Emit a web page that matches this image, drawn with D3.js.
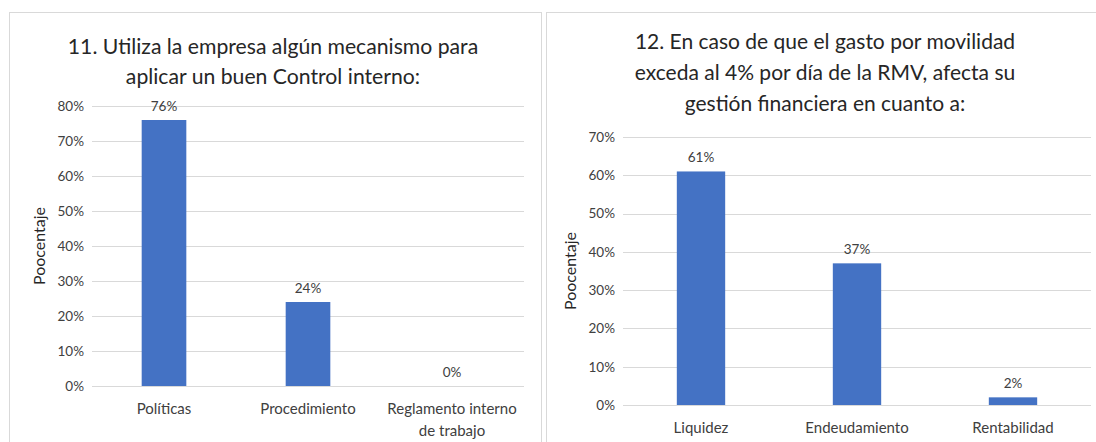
<!DOCTYPE html>
<html>
<head>
<meta charset="utf-8">
<script src="https://cdn.jsdelivr.net/npm/d3@7"></script>
<style>
  body { margin: 0; background: #fff; }
  text { font-family: Lato, "Open Sans", sans-serif; }
</style>
</head>
<body>
<script>
// chart 11
var cats11 = ["Políticas", "Procedimiento", "Reglamento interno de trabajo"];
var vals11 = [0.76, 0.24, 0.00];
var ticks11 = [0, 0.1, 0.2, 0.3, 0.4, 0.5, 0.6, 0.7, 0.8];
var title11 = ["11. Utiliza la empresa algún mecanismo para", "aplicar un buen Control interno:"];

// chart 12
var cats12 = ["Liquidez", "Endeudamiento", "Rentabilidad"];
var vals12 = [0.61, 0.37, 0.02];
var ticks12 = [0, 0.1, 0.2, 0.3, 0.4, 0.5, 0.6, 0.7];
var title12 = ["12. En caso de que el gasto por movilidad", "exceda al 4% por día de la RMV, afecta su", "gestión financiera en cuanto a:"];

var yLabel = "Poocentaje";

var width = 1096, height = 442;
var svg = d3.select("body").append("svg")
  .attr("width", width)
  .attr("height", height);

var fmt = d3.format(".0%");

// panel borders
svg.append("rect").attr("x", 9.5).attr("y", 12.5).attr("width", 532).attr("height", 440)
  .attr("fill", "none").attr("stroke", "#d9d9d9");
svg.append("rect").attr("x", 546.5).attr("y", 12.5).attr("width", 560).attr("height", 440)
  .attr("fill", "none").attr("stroke", "#d9d9d9");

function drawPanel(o) {
  var g = svg.append("g");

  // title lines
  g.selectAll("text.title").data(o.title).enter().append("text")
    .attr("x", o.titleX)
    .attr("y", function(d, i) { return o.titleY + i * o.titleStep; })
    .attr("text-anchor", "middle")
    .attr("font-size", o.titleSize)
    .attr("fill", "#262626")
    .text(function(d) { return d; });

  var x = d3.scaleBand().domain(o.cats).range([o.left, o.right]).paddingInner(0.69).paddingOuter(0.345);
  var y = d3.scaleLinear().domain([0, d3.max(o.ticks)]).range([o.bottom, o.top]);

  // gridlines
  g.selectAll("line.grid").data(o.ticks).enter().append("line")
    .attr("x1", o.left).attr("x2", o.right)
    .attr("y1", function(d) { return Math.round(y(d)) + 0.5; })
    .attr("y2", function(d) { return Math.round(y(d)) + 0.5; })
    .attr("stroke", "#d9d9d9");

  // y tick labels
  var ax = g.append("g")
    .attr("transform", "translate(" + o.left + ",0)")
    .call(d3.axisLeft(y).tickValues(o.ticks).tickFormat(fmt).tickSize(0).tickPadding(8));
  ax.select(".domain").remove();
  ax.selectAll("text").attr("font-size", 13.5).attr("fill", "#404040")
    .attr("font-family", "Lato, 'Open Sans', sans-serif");

  // bars
  g.selectAll("rect.bar").data(o.vals).enter().append("rect")
    .attr("x", function(d, i) { return x(o.cats[i]); })
    .attr("width", x.bandwidth())
    .attr("y", function(d) { return y(d); })
    .attr("height", function(d) { return o.bottom - y(d); })
    .attr("fill", "#4472c4");

  // value labels
  g.selectAll("text.val").data(o.vals).enter().append("text")
    .attr("x", function(d, i) { return x(o.cats[i]) + x.bandwidth() / 2; })
    .attr("y", function(d) { return y(d) - 9; })
    .attr("text-anchor", "middle")
    .attr("font-size", 13.5)
    .attr("fill", "#404040")
    .text(function(d) { return fmt(d); });

  // category labels (wrap on two lines where needed)
  o.cats.forEach(function(c, i) {
    var lines = o.wrap[i] || [c];
    var t = g.append("text")
      .attr("text-anchor", "middle")
      .attr("font-size", 15)
      .attr("fill", "#404040");
    lines.forEach(function(l, j) {
      t.append("tspan")
        .attr("x", x(c) + x.bandwidth() / 2)
        .attr("y", o.bottom + 28 + j * 22)
        .text(l);
    });
  });

  // y axis title
  g.append("text")
    .attr("transform", "translate(" + o.yLabelX + "," + ((o.top + o.bottom) / 2) + ") rotate(-90)")
    .attr("text-anchor", "middle")
    .attr("font-size", 16)
    .attr("fill", "#262626")
    .text(yLabel);
}

drawPanel({
  title: title11, titleX: 273, titleY: 54, titleStep: 30, titleSize: 21.2,
  cats: cats11, vals: vals11, ticks: ticks11,
  wrap: [null, null, ["Reglamento interno", "de trabajo"]],
  left: 92, right: 524, top: 106, bottom: 386,
  yLabelX: 45
});

drawPanel({
  title: title12, titleX: 825, titleY: 49, titleStep: 31, titleSize: 21,
  cats: cats12, vals: vals12, ticks: ticks12,
  wrap: [],
  left: 623, right: 1091, top: 137, bottom: 405,
  yLabelX: 576
});
</script>
</body>
</html>
